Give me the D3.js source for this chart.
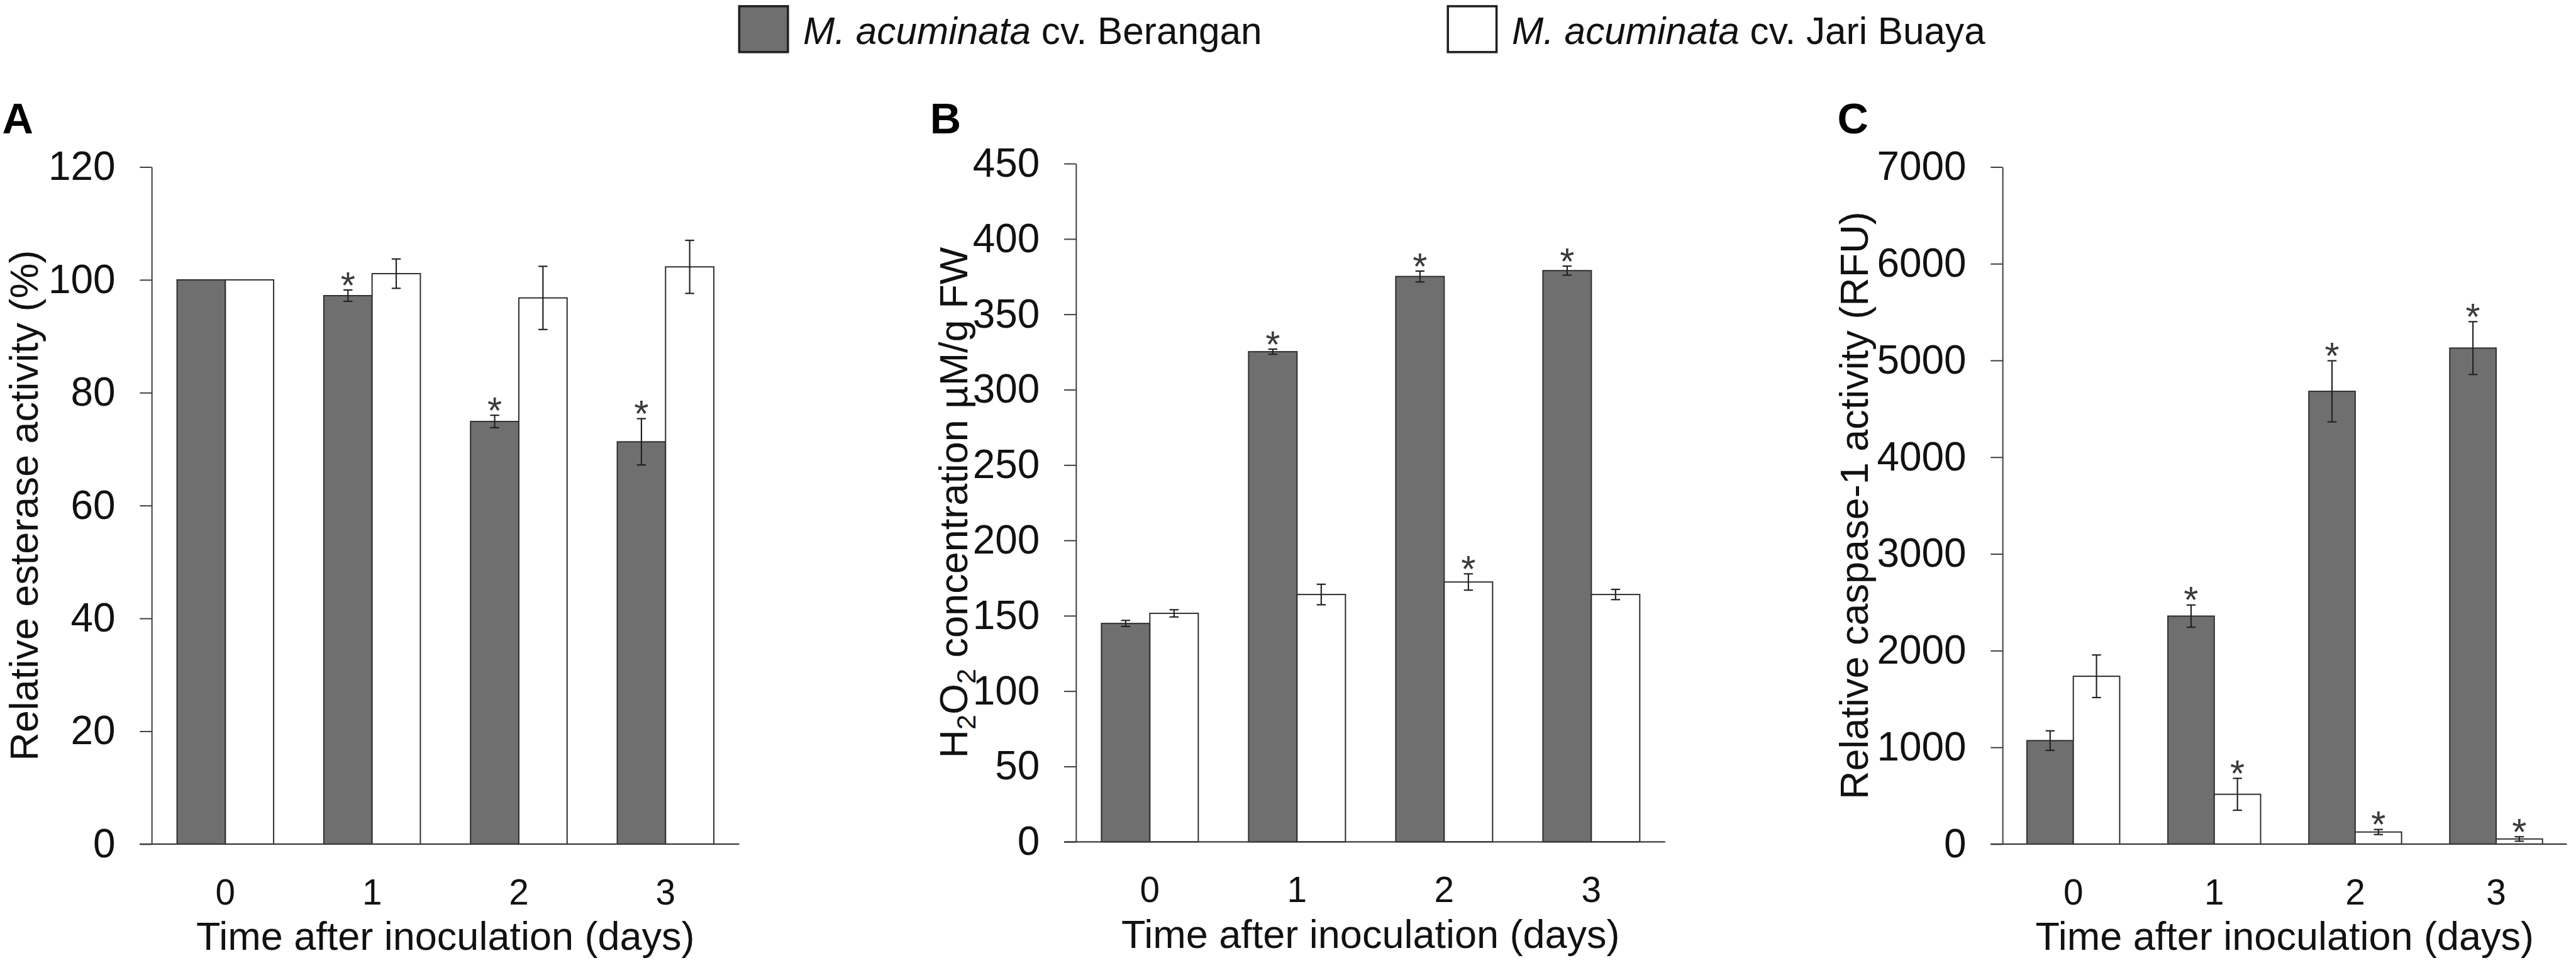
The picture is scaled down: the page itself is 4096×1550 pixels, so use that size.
<!DOCTYPE html>
<html><head><meta charset="utf-8">
<script src="https://cdn.jsdelivr.net/npm/d3@7"></script>
<style>
body{margin:0;background:#fff}
svg{display:block}
text{font-family:"Liberation Sans",Arial,Helvetica,sans-serif}
</style>
</head><body>
<svg id="chart" width="4096" height="1550"></svg>
<script>
// ---------------- data ----------------
const days = ["0", "1", "2", "3"];
const seriesNames = ["M. acuminata|cv. Berangan", "M. acuminata|cv. Jari Buaya"];

// Panel A: relative esterase activity (%)
const esteraseBerangan      = [100, 97.2, 74.9, 71.3];
const esteraseBeranganErr   = [0, 1.0, 1.1, 4.1];
const esteraseBeranganSig   = [false, true, true, true];
const esteraseJariBuaya     = [100, 101.1, 96.8, 102.3];
const esteraseJariBuayaErr  = [0, 2.6, 5.6, 4.7];
const esteraseJariBuayaSig  = [false, false, false, false];
const esteraseTicks = [0, 20, 40, 60, 80, 100, 120];

// Panel B: H2O2 concentration (µM/g FW)
const h2o2Berangan      = [144.9, 325.2, 375.1, 379.0];
const h2o2BeranganErr   = [2.0, 1.7, 3.6, 3.0];
const h2o2BeranganSig   = [false, true, true, true];
const h2o2JariBuaya     = [151.6, 164.1, 172.4, 164.1];
const h2o2JariBuayaErr  = [2.4, 6.8, 5.4, 3.4];
const h2o2JariBuayaSig  = [false, false, true, false];
const h2o2Ticks = [0, 50, 100, 150, 200, 250, 300, 350, 400, 450];

// Panel C: relative caspase-1 activity (RFU)
const caspaseBerangan      = [1070, 2357, 4681, 5128];
const caspaseBeranganErr   = [101, 115, 316, 273];
const caspaseBeranganSig   = [false, true, true, true];
const caspaseJariBuaya     = [1735, 515, 125, 53];
const caspaseJariBuayaErr  = [220, 165, 26, 23];
const caspaseJariBuayaSig  = [false, true, true, true];
const caspaseTicks = [0, 1000, 2000, 3000, 4000, 5000, 6000, 7000];

const xTitle = "Time after inoculation (days)";

// ---------------- drawing ----------------
const S = 0.9; // reference -> window scale
const svg = d3.select("#chart");
const root = svg.append("g").attr("transform", `scale(${S})`);

const DARK = "#6f6f6f";
const BAR_STROKE = "#2e2e2e";
const AXIS = "#3c3c3c";
const STAR_SIZE = 66;

// ink metrics of the asterisk, to centre it above the error bar
const ctx = document.createElement("canvas").getContext("2d");
ctx.font = `${STAR_SIZE}px "Liberation Sans"`;
const sm = ctx.measureText("*");
const starAsc = sm.actualBoundingBoxAscent || 0.72 * STAR_SIZE;
const starDesc = (sm.actualBoundingBoxDescent !== undefined) ? sm.actualBoundingBoxDescent : -0.44 * STAR_SIZE;
const starHalf = (starAsc - starDesc) / 2; // baseline = centre + starHalf

const panels = [
  { letter: "A", letterX: 4, axisX: 268, endX: 1306, y0: 1491, yTop: 295, titleX: 67,
    ticks: esteraseTicks,
    s1: esteraseBerangan, e1: esteraseBeranganErr, g1: esteraseBeranganSig,
    s2: esteraseJariBuaya, e2: esteraseJariBuayaErr, g2: esteraseJariBuayaSig,
    yTitle: [{t: "Relative esterase activity (%)"}] },
  { letter: "B", letterX: 1643, axisX: 1901, endX: 2942, y0: 1487, yTop: 289, titleX: 1709,
    ticks: h2o2Ticks,
    s1: h2o2Berangan, e1: h2o2BeranganErr, g1: h2o2BeranganSig,
    s2: h2o2JariBuaya, e2: h2o2JariBuayaErr, g2: h2o2JariBuayaSig,
    yTitle: [{t: "H"}, {t: "2", sub: true}, {t: "O"}, {t: "2", sub: true}, {t: " concentration µM/g FW"}] },
  { letter: "C", letterX: 3246, axisX: 3538, endX: 4535, y0: 1491, yTop: 295, titleX: 3300,
    ticks: caspaseTicks,
    s1: caspaseBerangan, e1: caspaseBeranganErr, g1: caspaseBeranganSig,
    s2: caspaseJariBuaya, e2: caspaseJariBuayaErr, g2: caspaseJariBuayaSig,
    yTitle: [{t: "Relative caspase-1 activity (RFU)"}] }
];

panels.forEach(p => {
  const g = root.append("g");
  const x0 = d3.scaleBand().domain(days).range([p.axisX, p.endX]).paddingInner(0.342).paddingOuter(0.173);
  const x1 = d3.scaleBand().domain([0, 1]).range([0, x0.bandwidth()]);
  const y = d3.scaleLinear().domain([0, d3.max(p.ticks)]).range([p.y0, p.yTop]);

  // panel letter
  g.append("text").attr("x", p.letterX).attr("y", 236)
    .attr("font-size", 76).attr("font-weight", "bold").attr("fill", "#000").text(p.letter);

  // y axis
  const ya = g.append("g").attr("transform", `translate(${p.axisX},0)`)
    .call(d3.axisLeft(y).tickValues(p.ticks).tickSize(21).tickSizeOuter(0).tickPadding(43).tickFormat(d3.format("d")));
  ya.selectAll("path,line").attr("stroke", AXIS).attr("stroke-width", 2.2);
  ya.selectAll("text").attr("font-size", 71).attr("fill", "#111").attr("font-family", "Liberation Sans, Arial, sans-serif");

  // bars
  const series = [
    { v: p.s1, e: p.e1, s: p.g1, fill: DARK },
    { v: p.s2, e: p.e2, s: p.g2, fill: "#ffffff" }
  ];
  series.forEach((ser, si) => {
    const bg = g.append("g");
    bg.selectAll("rect").data(days).join("rect")
      .attr("x", d => x0(d) + x1(si))
      .attr("width", x1.bandwidth())
      .attr("y", (d, i) => y(ser.v[i]))
      .attr("height", (d, i) => p.y0 - y(ser.v[i]))
      .attr("fill", ser.fill).attr("stroke", BAR_STROKE).attr("stroke-width", 2.2);
  });

  // x baseline
  g.append("line").attr("x1", p.axisX - 21).attr("x2", p.endX).attr("y1", p.y0).attr("y2", p.y0)
    .attr("stroke", AXIS).attr("stroke-width", 2.6);

  // error bars & stars
  series.forEach((ser, si) => {
    const eg = g.append("g").attr("stroke", "#222").attr("stroke-width", 2.4);
    days.forEach((d, i) => {
      const cx = x0(d) + x1(si) + x1.bandwidth() / 2;
      const v = ser.v[i], e = ser.e[i];
      if (e > 0) {
        const yt = y(v + e), yb = y(v - e);
        eg.append("line").attr("x1", cx).attr("x2", cx).attr("y1", yt).attr("y2", yb);
        eg.append("line").attr("x1", cx - 8).attr("x2", cx + 8).attr("y1", yt).attr("y2", yt);
        eg.append("line").attr("x1", cx - 8).attr("x2", cx + 8).attr("y1", yb).attr("y2", yb);
      }
      if (ser.s[i]) {
        const centre = y(v + e) - 20;
        g.append("text").attr("x", cx).attr("y", centre + starHalf)
          .attr("text-anchor", "middle").attr("font-size", STAR_SIZE).attr("fill", "#3a3a3a").text("*");
      }
    });
  });

  // x tick labels
  const xa = g.append("g").attr("transform", `translate(0,${p.y0})`)
    .call(d3.axisBottom(x0).tickSize(0).tickPadding(62));
  xa.select(".domain").remove();
  xa.selectAll("text").attr("font-size", 63).attr("fill", "#111").attr("font-family", "Liberation Sans, Arial, sans-serif");

  // x title
  g.append("text").attr("x", (p.axisX + p.endX) / 2).attr("y", p.y0 + 187)
    .attr("text-anchor", "middle").attr("font-size", 70).attr("fill", "#111").text(xTitle);

  // y title
  const yt = g.append("text")
    .attr("transform", `translate(${p.titleX},${(p.y0 + p.yTop) / 2}) rotate(-90)`)
    .attr("text-anchor", "middle").attr("font-size", 70).attr("fill", "#111")
    .style("white-space", "pre");
  let shifted = false;
  p.yTitle.forEach(part => {
    const ts = yt.append("tspan").text(part.t);
    if (part.sub) { ts.attr("font-size", 48).attr("dy", 14); shifted = true; }
    else if (shifted) { ts.attr("dy", -14); shifted = false; }
  });
});

// ---------------- legend ----------------
const legendItems = [
  { fill: DARK, boxX: 1306, textX: 1419 },
  { fill: "#ffffff", boxX: 2558, textX: 2671 }
];
legendItems.forEach((li, i) => {
  root.append("rect").attr("x", li.boxX).attr("y", 11).attr("width", 86).attr("height", 81)
    .attr("fill", li.fill).attr("stroke", "#222").attr("stroke-width", 4);
  const [ital, rest] = seriesNames[i].split("|");
  const t = root.append("text").attr("x", li.textX).attr("y", 78).attr("font-size", 67).attr("fill", "#111")
    .style("white-space", "pre");
  t.append("tspan").attr("font-style", "italic").text(ital);
  t.append("tspan").text(" " + rest);
});
</script>
</body></html>
